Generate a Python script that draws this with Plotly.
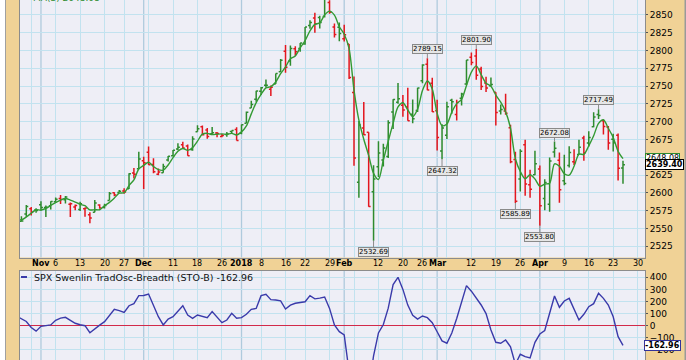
import plotly.graph_objects as go

# ---------------- data ----------------
dates = [
    "2017-10-23", "2017-10-24", "2017-10-25", "2017-10-26", "2017-10-27", "2017-10-30", "2017-10-31",
    "2017-11-01", "2017-11-02", "2017-11-03", "2017-11-06", "2017-11-07", "2017-11-08", "2017-11-09", "2017-11-10",
    "2017-11-13", "2017-11-14", "2017-11-15", "2017-11-16", "2017-11-17", "2017-11-20", "2017-11-21", "2017-11-22",
    "2017-11-24", "2017-11-27", "2017-11-28", "2017-11-29", "2017-11-30",
    "2017-12-01", "2017-12-04", "2017-12-05", "2017-12-06", "2017-12-07", "2017-12-08", "2017-12-11", "2017-12-12",
    "2017-12-13", "2017-12-14", "2017-12-15", "2017-12-18", "2017-12-19", "2017-12-20", "2017-12-21", "2017-12-22",
    "2017-12-26", "2017-12-27", "2017-12-28", "2017-12-29",
    "2018-01-02", "2018-01-03", "2018-01-04", "2018-01-05", "2018-01-08", "2018-01-09", "2018-01-10", "2018-01-11",
    "2018-01-12", "2018-01-16", "2018-01-17", "2018-01-18", "2018-01-19", "2018-01-22", "2018-01-23", "2018-01-24",
    "2018-01-25", "2018-01-26", "2018-01-29", "2018-01-30", "2018-01-31",
    "2018-02-01", "2018-02-02", "2018-02-05", "2018-02-06", "2018-02-07", "2018-02-08", "2018-02-09", "2018-02-12",
    "2018-02-13", "2018-02-14", "2018-02-15", "2018-02-16", "2018-02-20", "2018-02-21", "2018-02-22", "2018-02-23",
    "2018-02-26", "2018-02-27", "2018-02-28",
    "2018-03-01", "2018-03-02", "2018-03-05", "2018-03-06", "2018-03-07", "2018-03-08", "2018-03-09", "2018-03-12",
    "2018-03-13", "2018-03-14", "2018-03-15", "2018-03-16", "2018-03-19", "2018-03-20", "2018-03-21", "2018-03-22",
    "2018-03-23", "2018-03-26", "2018-03-27", "2018-03-28", "2018-03-29",
    "2018-04-02", "2018-04-03", "2018-04-04", "2018-04-05", "2018-04-06", "2018-04-09", "2018-04-10", "2018-04-11",
    "2018-04-12", "2018-04-13", "2018-04-16", "2018-04-17", "2018-04-18", "2018-04-19", "2018-04-20", "2018-04-23",
    "2018-04-24", "2018-04-25",
]
future_days = ["2018-04-26", "2018-04-27", "2018-04-30", "2018-05-01"]

opens = [
    2578.08, 2568.66, 2566.52, 2560.08, 2570.26, 2577.75, 2575.99,
    2583.21, 2579.46, 2581.93, 2587.47, 2592.11, 2590.39, 2584.00, 2580.18,
    2576.53, 2577.75, 2569.45, 2572.95, 2582.94, 2579.49, 2589.17, 2600.31,
    2600.42, 2602.66, 2605.94, 2627.82, 2633.93,
    2645.10, 2657.19, 2639.78, 2626.24, 2628.38, 2646.21, 2652.19, 2661.73,
    2667.59, 2665.87, 2660.63, 2685.92, 2692.71, 2688.18, 2683.02, 2684.22,
    2679.09, 2682.10, 2686.10, 2689.15,
    2683.73, 2697.85, 2719.31, 2731.33, 2742.67, 2751.15, 2745.55, 2752.97,
    2770.18, 2798.96, 2784.99, 2802.40, 2802.60, 2809.16, 2835.05, 2845.42,
    2846.24, 2847.48, 2867.23, 2832.74, 2832.41,
    2816.45, 2808.92, 2741.06, 2614.78, 2690.95, 2685.01, 2601.78, 2636.75,
    2646.27, 2651.21, 2713.46, 2727.14, 2722.99, 2720.53, 2710.42, 2715.80,
    2757.37, 2780.45, 2753.78,
    2715.22, 2658.89, 2681.06, 2730.18, 2710.18, 2732.75, 2752.91, 2790.54,
    2792.31, 2774.06, 2754.27, 2750.57, 2741.38, 2715.05, 2714.99, 2691.36,
    2646.71, 2619.35, 2667.57, 2611.30, 2625.52,
    2633.45, 2592.17, 2584.04, 2657.36, 2645.82, 2617.18, 2638.41, 2643.69,
    2653.83, 2676.90, 2670.10, 2692.74, 2710.11, 2701.16, 2692.56, 2675.40,
    2680.80, 2634.92,
]
highs = [
    2578.29, 2572.18, 2567.40, 2567.07, 2582.98, 2580.03, 2578.29,
    2588.40, 2582.47, 2588.42, 2593.38, 2597.02, 2595.47, 2586.50, 2583.81,
    2587.66, 2579.66, 2572.84, 2590.09, 2583.96, 2584.64, 2601.19, 2600.94,
    2604.21, 2606.41, 2627.69, 2634.89, 2657.74,
    2650.62, 2665.19, 2648.72, 2634.41, 2640.99, 2651.65, 2660.33, 2669.72,
    2671.88, 2668.09, 2679.63, 2694.97, 2694.44, 2691.01, 2692.64, 2685.35,
    2682.74, 2685.64, 2687.66, 2692.12,
    2695.89, 2714.37, 2729.29, 2743.45, 2748.51, 2759.14, 2750.80, 2767.56,
    2787.85, 2807.54, 2807.04, 2805.83, 2810.33, 2833.03, 2842.24, 2852.97,
    2848.56, 2872.87, 2870.62, 2837.75, 2839.26,
    2835.96, 2808.92, 2763.39, 2701.04, 2727.67, 2685.27, 2638.67, 2672.61,
    2668.84, 2702.10, 2731.51, 2754.42, 2737.60, 2747.75, 2731.26, 2747.76,
    2780.64, 2789.15, 2761.52,
    2730.89, 2696.25, 2728.09, 2732.08, 2730.60, 2740.45, 2786.57, 2796.98,
    2801.90, 2777.11, 2763.03, 2761.85, 2741.38, 2724.22, 2739.14, 2695.68,
    2657.67, 2661.36, 2674.78, 2632.65, 2659.23,
    2638.30, 2619.14, 2649.86, 2672.08, 2656.88, 2653.55, 2665.45, 2661.43,
    2674.72, 2680.26, 2686.49, 2713.34, 2717.49, 2702.84, 2693.94, 2682.86,
    2683.55, 2645.30,
]
lows = [
    2564.33, 2565.58, 2544.00, 2559.80, 2565.94, 2568.25, 2572.15,
    2574.92, 2566.17, 2576.77, 2585.66, 2584.35, 2585.02, 2566.33, 2575.57,
    2574.48, 2566.56, 2557.45, 2572.95, 2577.62, 2578.24, 2589.17, 2595.23,
    2600.42, 2598.87, 2605.44, 2620.32, 2633.93,
    2605.52, 2639.03, 2627.73, 2624.75, 2628.38, 2644.10, 2651.47, 2659.78,
    2662.85, 2652.01, 2659.14, 2685.92, 2680.74, 2676.11, 2682.40, 2678.13,
    2677.96, 2678.91, 2682.69, 2673.61,
    2682.36, 2697.77, 2719.07, 2727.92, 2737.60, 2747.86, 2736.06, 2752.78,
    2769.64, 2768.64, 2778.38, 2792.56, 2798.08, 2808.12, 2830.59, 2824.81,
    2830.94, 2846.18, 2851.48, 2818.27, 2813.04,
    2812.70, 2759.97, 2638.17, 2593.07, 2681.33, 2580.56, 2532.69, 2622.45,
    2637.08, 2648.87, 2689.82, 2725.11, 2706.76, 2701.29, 2697.77, 2713.74,
    2753.78, 2744.22, 2713.54,
    2659.65, 2647.32, 2675.75, 2711.26, 2701.74, 2722.65, 2751.54, 2779.26,
    2758.68, 2744.38, 2741.47, 2749.97, 2694.59, 2710.05, 2709.79, 2641.59,
    2585.89, 2601.81, 2596.12, 2593.06, 2624.75,
    2553.80, 2575.49, 2573.61, 2649.58, 2586.27, 2610.79, 2635.78, 2639.25,
    2653.83, 2645.05, 2665.16, 2692.05, 2703.63, 2681.90, 2660.61, 2657.99,
    2617.32, 2612.67,
]
closes = [
    2564.98, 2569.13, 2557.15, 2560.40, 2581.07, 2572.83, 2575.26,
    2579.36, 2579.85, 2587.84, 2591.13, 2590.64, 2594.38, 2584.62, 2582.30,
    2584.84, 2578.87, 2564.62, 2585.64, 2578.85, 2582.14, 2599.03, 2597.08,
    2602.42, 2601.42, 2627.04, 2626.07, 2647.58,
    2642.22, 2639.44, 2629.57, 2629.27, 2636.98, 2651.50, 2659.99, 2664.11,
    2662.85, 2652.01, 2675.81, 2690.16, 2681.47, 2679.25, 2684.57, 2683.34,
    2680.50, 2682.62, 2687.54, 2673.61,
    2695.81, 2713.06, 2723.99, 2743.15, 2747.71, 2751.29, 2748.23, 2767.56,
    2786.24, 2776.42, 2802.56, 2798.03, 2810.30, 2832.97, 2839.13, 2837.54,
    2839.25, 2872.87, 2853.53, 2822.43, 2823.81,
    2821.98, 2762.13, 2648.94, 2695.14, 2681.66, 2581.00, 2619.55, 2656.00,
    2662.94, 2698.63, 2731.20, 2732.22, 2716.26, 2701.33, 2703.96, 2747.30,
    2779.60, 2744.28, 2713.83,
    2677.67, 2691.25, 2720.94, 2728.12, 2726.80, 2738.97, 2786.57, 2783.02,
    2765.31, 2749.48, 2747.33, 2752.01, 2712.92, 2716.94, 2711.93, 2643.69,
    2588.26, 2658.55, 2612.62, 2605.00, 2640.87,
    2581.88, 2614.45, 2644.69, 2662.84, 2604.47, 2613.16, 2656.87, 2642.19,
    2663.99, 2656.30, 2677.84, 2706.39, 2708.64, 2693.13, 2670.14, 2670.29,
    2634.56, 2639.40,
]
# SPX Swenlin TradOsc-Breadth (STO-B)
sto_b = [
    100, 95, 80, 58, 35, -15, -45,
    -5, 2, 6, 45, 62, 69, 45, 20,
    8, 0, -58, -25, 5, 33, 85, 135,
    125, 110, 165, 182, 248,
    250, 262, 160, 74, 6, 55, 74, 120,
    165, 88, 61, 88, 78, 66, 116, 70,
    25, 47, 102, 61,
    66, 94, 135, 143, 248, 259, 215, 212,
    205, 138, 170, 185, 193, 198, 248, 222,
    228, 237, 143, 6, -49,
    -77, -380, -600, -560, -470, -520, -250, -60,
    10, 145, 340, 400, 300, 170, 85, 55,
    80, 66, 25,
    -50, -126, -145, -60, 60, 200, 331, 285,
    230, 171, 100, -36, -137, -145, -118, -174,
    -320, -236, -256, -266, -137,
    -69, -40, 100, 245, 152, 204, 226, 135,
    47, 94, 157, 182, 268, 226, 171, 74,
    -91, -162.96,
]

tick_dates = ["2017-10-30", "2017-11-01", "2017-11-06", "2017-11-13", "2017-11-20", "2017-11-27",
              "2017-12-01", "2017-12-04", "2017-12-11", "2017-12-18", "2017-12-26",
              "2018-01-02", "2018-01-08", "2018-01-16", "2018-01-22", "2018-01-29",
              "2018-02-01", "2018-02-05", "2018-02-12", "2018-02-20", "2018-02-26",
              "2018-03-01", "2018-03-05", "2018-03-12", "2018-03-19", "2018-03-26",
              "2018-04-02", "2018-04-09", "2018-04-16", "2018-04-23", "2018-04-30"]
tick_labels = ["", "Nov", "6", "13", "20", "27",
               "Dec", "", "11", "18", "26",
               "2018", "8", "16", "22", "29",
               "Feb", "", "12", "20", "26",
               "Mar", "", "12", "19", "26",
               "Apr", "9", "16", "23", "30"]
month_labels = {"Nov", "Dec", "2018", "Feb", "Mar", "Apr"}
month_start_dates = ["2017-11-01", "2017-12-01", "2018-01-02", "2018-02-01", "2018-03-01", "2018-04-02"]

marked_points = [  # (date, kind)
    ("2018-02-09", "low"), ("2018-02-27", "high"), ("2018-03-02", "low"), ("2018-03-13", "high"),
    ("2018-03-23", "low"), ("2018-04-02", "low"), ("2018-04-05", "high"), ("2018-04-18", "high"),
]

ma_period = 3
price_ticks = list(range(2525, 2851, 25))
osc_ticks = [400, 300, 200, 100, 0, -100, -200, -300]

# ---------------- styling ----------------
TAN = "#F0D296"
PLOT_BG = "#EEEEF6"
GRID = "#C2E2EF"
MONTH_GRID = "#AFCADD"
BORDER = "#8C8C8C"
GREEN = "#2E8B2E"
RED = "#E3161E"
MA_GREEN = "#339A33"
BLUE = "#3A3AAA"
ZERO_RED = "#D22A4A"
FONT = "DejaVu Sans"

axis_days = dates + future_days
ref = axis_days.index("2017-11-01")
xs = [axis_days.index(d) - ref for d in dates]

up_idx, dn_idx = [], []
for i in range(len(dates)):
    prev = closes[i - 1] if i > 0 else opens[i]
    (up_idx if closes[i] >= prev else dn_idx).append(i)

ma_x = xs[ma_period - 1:]
ma_y = [sum(closes[i - ma_period + 1:i + 1]) / ma_period for i in range(ma_period - 1, len(closes))]

fig = go.Figure()


def ohlc(idx, color):
    return go.Ohlc(
        x=[xs[i] for i in idx], open=[opens[i] for i in idx], high=[highs[i] for i in idx],
        low=[lows[i] for i in idx], close=[closes[i] for i in idx],
        increasing=dict(line=dict(color=color, width=1.5)),
        decreasing=dict(line=dict(color=color, width=1.5)),
        tickwidth=0.4, hoverinfo="skip", xaxis="x", yaxis="y", showlegend=False,
    )


fig.add_trace(ohlc(up_idx, GREEN))
fig.add_trace(ohlc(dn_idx, RED))
fig.add_trace(go.Scatter(x=ma_x, y=ma_y, mode="lines",
                         line=dict(color=MA_GREEN, width=1.4, shape="spline", smoothing=0.8),
                         hoverinfo="skip", xaxis="x", yaxis="y", showlegend=False))
fig.add_trace(go.Scatter(x=xs, y=sto_b, mode="lines", line=dict(color=BLUE, width=1.4),
                         hoverinfo="skip", xaxis="x2", yaxis="y2", showlegend=False))

tickvals = [axis_days.index(d) - ref for d in tick_dates]
month_vals = [axis_days.index(d) - ref for d in month_start_dates]
week_grid_vals = [v for v in tickvals if v not in month_vals]

W, H = 686, 360
ML, MR = 20, 41
PW = W - ML - MR
main_bottom_px = 257.5
lower_top_px = 270.5
date_label_px = 263.8


def px_x(p):
    return (p - ML) / PW


def px_y(p):
    return 1 - p / H


x_range = [-4.29, 123.5]
common_x = dict(range=x_range, tickvals=week_grid_vals, showticklabels=False, showgrid=True,
                gridcolor=GRID, gridwidth=1, showline=True, linecolor=BORDER, linewidth=1,
                mirror=True, zeroline=False, ticks="", fixedrange=True)

fig.update_layout(
    width=W, height=H, margin=dict(l=ML, r=MR, t=0, b=0, pad=0),
    paper_bgcolor=TAN, plot_bgcolor=PLOT_BG, showlegend=False,
    font=dict(family=FONT, size=9, color="#000000"),
    xaxis=dict(domain=[0, 1], anchor="y", rangeslider=dict(visible=False), **common_x),
    yaxis=dict(domain=[px_y(main_bottom_px), 1], anchor="x", side="right", range=[2509.3, 2870.8],
               tickvals=price_ticks, ticks="outside", ticklen=2, tickcolor="#555555",
               showgrid=True, gridcolor=GRID, showline=True, linecolor=BORDER, mirror=True,
               zeroline=False, tickfont=dict(family=FONT, size=9, color="#000000"), fixedrange=True),
    xaxis2=dict(domain=[0, 1], anchor="y2", **common_x),
    yaxis2=dict(domain=[0, px_y(lower_top_px)], anchor="x2", side="right", range=[-283.5, 456],
                tickvals=osc_ticks, ticks="outside", ticklen=2, tickcolor="#555555",
                showgrid=True, gridcolor=GRID, showline=True, linecolor=BORDER, mirror=True,
                zeroline=True, zerolinecolor=ZERO_RED, zerolinewidth=1.3,
                tickfont=dict(family=FONT, size=9, color="#000000"), fixedrange=True),
)

shapes = []
for xv in month_vals:
    for xr, yr in (("x", "y"), ("x2", "y2")):
        shapes.append(dict(type="line", xref=xr, yref=f"{yr} domain", x0=xv, x1=xv, y0=0, y1=1,
                           line=dict(color=MONTH_GRID, width=1.3), layer="below"))
# outer frame pieces
shapes.append(dict(type="rect", xref="paper", yref="paper", x0=px_x(0), x1=px_x(5), y0=0, y1=1,
                   fillcolor="#FFFFFF", line=dict(width=0)))
shapes.append(dict(type="line", xref="paper", yref="paper", x0=px_x(5.5), x1=px_x(5.5), y0=0, y1=1,
                   line=dict(color="#A0A0A0", width=1)))
shapes.append(dict(type="rect", xref="paper", yref="paper", x0=px_x(684.5), x1=px_x(686), y0=0, y1=1,
                   fillcolor="#9A9A9A", line=dict(width=0)))
# legend dash of lower panel
shapes.append(dict(type="line", xref="paper", yref="paper", x0=px_x(21), x1=px_x(27),
                   y0=px_y(277), y1=px_y(277), line=dict(color=BLUE, width=2)))
fig.update_layout(shapes=shapes)

ann = []
# date labels in the band between the panels
for tv, lab in zip(tickvals, tick_labels):
    if not lab:
        continue
    txt = f"<b>{lab}</b>" if lab in month_labels else lab
    ann.append(dict(x=tv, xref="x", y=px_y(date_label_px), yref="paper", text=txt,
                    showarrow=False, xanchor="center", yanchor="middle",
                    font=dict(family=FONT, size=8, color="#000000")))

for d, kind in marked_points:
    i = dates.index(d)
    val = highs[i] if kind == "high" else lows[i]
    ann.append(dict(x=xs[i], y=val, xref="x", yref="y", text=f"{val:.2f}",
                    showarrow=True, arrowhead=0, arrowwidth=1, arrowcolor="#8A8A8A", standoff=0,
                    ax=0, ay=-9 if kind == "high" else 11.5,
                    font=dict(family=FONT, size=7, color="#000000"),
                    bgcolor="#E6E6E6", bordercolor="#8A8A8A", borderwidth=1, borderpad=0))

ma_last = ma_y[-1]
ann.append(dict(xref="paper", x=1, xanchor="left", xshift=0, yref="y", y=ma_last, yanchor="middle",
                text=f"{ma_last:.2f}", showarrow=False,
                font=dict(family=FONT, size=8, color="#000000"),
                bgcolor="#FFFFFF", bordercolor=GREEN, borderwidth=1, borderpad=0))
ann.append(dict(xref="paper", x=1, xanchor="left", xshift=0, yref="y", y=closes[-1], yanchor="middle",
                text=f"<b>{closes[-1]:.2f}</b>", showarrow=False,
                font=dict(family=FONT, size=8, color="#000000"),
                bgcolor="#FFFFFF", bordercolor="#000000", borderwidth=1, borderpad=0))
ann.append(dict(xref="paper", x=1, xanchor="left", xshift=-1, yref="y2", y=sto_b[-1], yanchor="middle",
                text=f"<b>{sto_b[-1]:.2f}</b>", showarrow=False,
                font=dict(family=FONT, size=8, color="#000000"),
                bgcolor="#FFFFFF", bordercolor="#33339A", borderwidth=1, borderpad=0))
ann.append(dict(xref="paper", x=px_x(32), xanchor="left", yref="paper", y=px_y(277), yanchor="middle",
                text=f"SPX Swenlin TradOsc-Breadth (STO-B) {sto_b[-1]:.2f}", showarrow=False,
                font=dict(family=FONT, size=9.5, color="#111111")))
ann.append(dict(xref="paper", x=px_x(31), xanchor="left", yref="paper", y=1, yanchor="middle", yshift=2.5,
                text=f"MA({ma_period}) {ma_last:.2f}", showarrow=False,
                font=dict(family=FONT, size=9, color=GREEN)))
fig.update_layout(annotations=ann)

fig.write_html("out.html")
